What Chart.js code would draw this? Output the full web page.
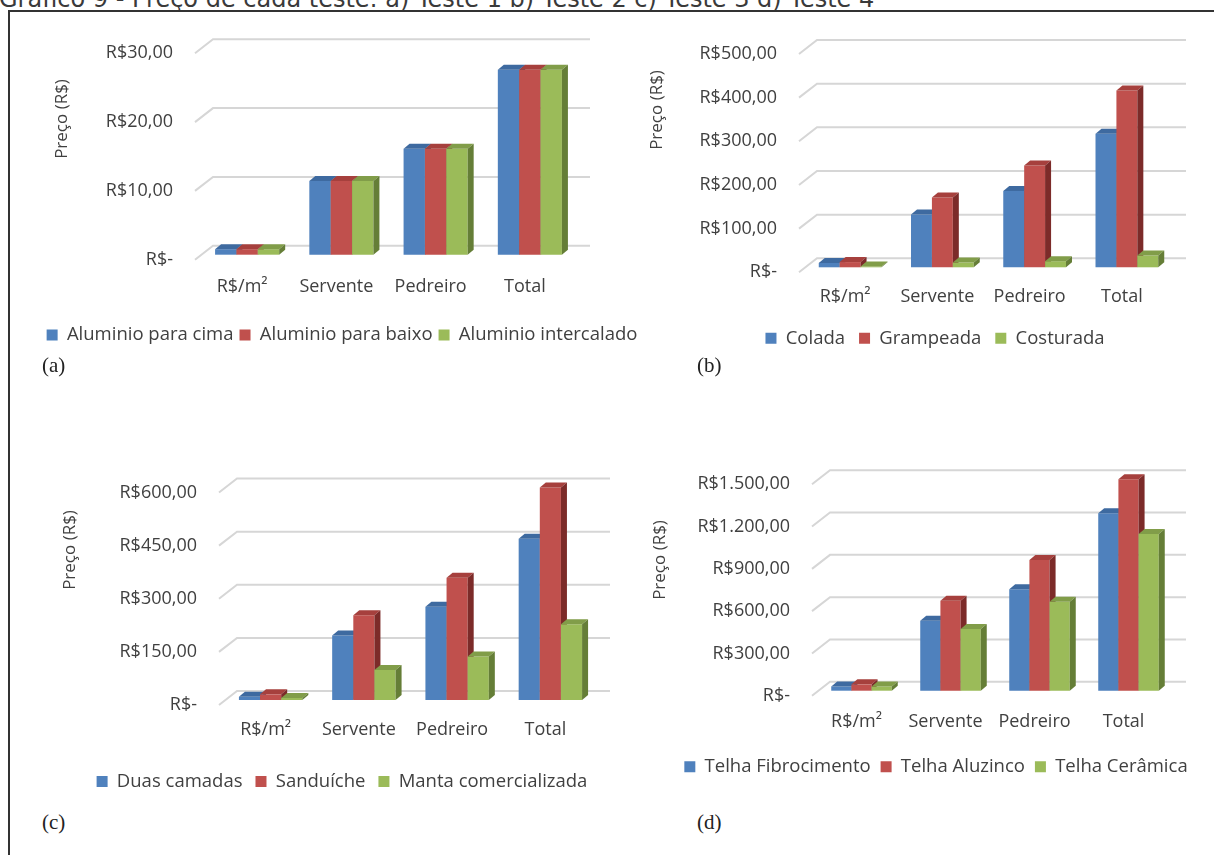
<!DOCTYPE html>
<html>
<head>
<meta charset="utf-8">
<title>Preço de cada teste</title>
<script src="https://cdn.jsdelivr.net/npm/chart.js@4.4.1/dist/chart.umd.min.js"></script>
<style>
  html, body { margin: 0; padding: 0; width: 1214px; height: 855px; overflow: hidden; background: #fff; }
  body { position: relative; }
  #heading { position: absolute; left: -1px; top: -13.5px; font: 24px/24px "DejaVu Sans", sans-serif; color: #3a3a3a; white-space: nowrap; }
  #frame { position: absolute; left: 8px; top: 10px; width: 1220px; height: 860px; border-top: 2px solid #333; border-left: 2px solid #333; }
  canvas.panel { position: absolute; }
  .tag { position: absolute; font: 21px "Liberation Serif", serif; color: #222; line-height: 24px; }
</style>
</head>
<body>
<div id="heading">Gráfico 9 - Preço de cada teste: a) Teste 1 b) Teste 2 c) Teste 3 d) Teste 4</div>
<div id="frame"></div>

<canvas id="chartA" class="panel"></canvas>
<canvas id="chartB" class="panel"></canvas>
<canvas id="chartC" class="panel"></canvas>
<canvas id="chartD" class="panel"></canvas>

<div class="tag" style="left:42px; top:353px">(a)</div>
<div class="tag" style="left:697px; top:353px">(b)</div>
<div class="tag" style="left:42px; top:810px">(c)</div>
<div class="tag" style="left:697px; top:810px">(d)</div>

<script>
// ---- data ----
const categories = ['R$/m²', 'Servente', 'Pedreiro', 'Total'];

// (a) Teste 1
const seriesA = ['Aluminio para cima', 'Aluminio para baixo', 'Aluminio intercalado'];
const aluminioCima = [0.8, 10.7, 15.4, 26.9];
const aluminioBaixo = [0.8, 10.7, 15.4, 26.9];
const aluminioIntercalado = [0.8, 10.7, 15.4, 26.9];
const ticksA = [0, 10, 20, 30];

// (b) Teste 2
const seriesB = ['Colada', 'Grampeada', 'Costurada'];
const colada = [10, 121, 175, 306];
const grampeada = [12, 160, 233, 405];
const costurada = [2, 11, 14, 27];
const ticksB = [0, 100, 200, 300, 400, 500];

// (c) Teste 3
const seriesC = ['Duas camadas', 'Sanduíche', 'Manta comercializada'];
const duasCamadas = [9, 182, 263, 455];
const sanduiche = [16, 239, 345, 600];
const mantaComercializada = [6, 85, 123, 214];
const ticksC = [0, 150, 300, 450, 600];

// (d) Teste 4
const seriesD = ['Telha Fibrocimento', 'Telha Aluzinco', 'Telha Cerâmica'];
const telhaFibrocimento = [30, 497, 719, 1259];
const telhaAluzinco = [45, 639, 927, 1500];
const telhaCeramica = [30, 438, 632, 1112];
const ticksD = [0, 300, 600, 900, 1200, 1500];

// ---- styling ----
const FRONT = ['#4f81bd', '#c0504d', '#9bbb59'];
const TOP = ['#3e6aa0', '#a6403d', '#819d49'];
const SIDE = ['#335783', '#7c2b29', '#657e37'];
const TEXT = '#404040';
const FONT = '"Open Sans", "Noto Sans", sans-serif';
const LEGEND_FONT = 18.5;

// Brazilian currency labels; zero is shown as "R$-"
function brl(v) {
  if (v === 0) return 'R$-';
  const [int, dec] = Number(v).toFixed(2).split('.');
  return 'R$' + int.replace(/\B(?=(\d{3})+(?!\d))/g, '.') + ',' + dec;
}

// Oblique 3D look: back-wall gridlines, bars on a shifted plane with top and side faces
const depth3d = {
  id: 'depth3d',
  beforeDatasetsDraw(chart, args, o) {
    const { ctx, chartArea: a, scales: { y } } = chart;
    ctx.save();
    ctx.strokeStyle = o.gridColor;
    ctx.lineWidth = o.gridWidth;
    y.ticks.forEach(t => {
      const py = y.getPixelForValue(t.value);
      ctx.beginPath();
      ctx.moveTo(a.left, py);
      ctx.lineTo(a.left + o.wallDx, py - o.wallDy);
      ctx.lineTo(a.right + o.wallDx, py - o.wallDy);
      ctx.stroke();
    });
    ctx.restore();
  },
  // bars are painted below, series by series from left to right
  beforeDatasetDraw() { return false; },
  afterDatasetsDraw(chart, args, o) {
    const ctx = chart.ctx;
    const metas = chart.getSortedVisibleDatasetMetas().slice().sort((m1, m2) => m1.index - m2.index);
    metas.forEach(meta => {
      const i = meta.index;
      ctx.save();
      ctx.translate(o.planeDx, -o.planeDy);
      meta.data.forEach(bar => {
        bar.draw(ctx, chart.chartArea);
        const { x, y, base, width } = bar.getProps(['x', 'y', 'base', 'width'], true);
        const l = x - width / 2, r = x + width / 2;
        const top = Math.min(y, base), bottom = Math.max(y, base);
        const dx = o.barDx, dy = o.barDy;
        ctx.fillStyle = TOP[i];
        ctx.beginPath();
        ctx.moveTo(l, top); ctx.lineTo(l + dx, top - dy); ctx.lineTo(r + dx, top - dy); ctx.lineTo(r, top);
        ctx.closePath(); ctx.fill();
        ctx.fillStyle = SIDE[i];
        ctx.beginPath();
        ctx.moveTo(r, top); ctx.lineTo(r + dx, top - dy); ctx.lineTo(r + dx, bottom - dy); ctx.lineTo(r, bottom);
        ctx.closePath(); ctx.fill();
      });
      ctx.restore();
    });
  },
  afterDraw(chart, args, o) {
    const ctx = chart.ctx;
    ctx.save();
    ctx.translate(o.titleX, o.titleY);
    ctx.rotate(-Math.PI / 2);
    ctx.font = '17px ' + FONT;
    ctx.fillStyle = TEXT;
    ctx.textAlign = 'center';
    ctx.textBaseline = 'middle';
    ctx.fillText('Preço (R$)', 0, 0);
    ctx.restore();
  }
};

function build(id, p) {
  const cv = document.getElementById(id);
  cv.width = p.W; cv.height = p.H;
  cv.style.left = p.L + 'px'; cv.style.top = p.T + 'px';

  const legendTop = p.legendY - p.legendGap - LEGEND_FONT / 2;
  const legendH = LEGEND_FONT + p.legendGap + 10;
  const yW = p.left - p.L;
  const rightW = p.L + p.W - p.right;
  const box = { xH: legendTop - p.zero };

  const chart = new Chart(cv, {
    type: 'bar',
    data: {
      labels: categories,
      datasets: p.names.map((name, i) => ({
        label: name,
        data: p.values[i],
        backgroundColor: FRONT[i],
        borderWidth: 0,
        clip: false,
        categoryPercentage: 0.68,
        barPercentage: 1.0
      }))
    },
    options: {
      responsive: false,
      animation: false,
      devicePixelRatio: 1,
      layout: {
        padding: { left: 0, right: 0, top: p.top - p.T, bottom: p.T + p.H - legendTop - legendH }
      },
      scales: {
        x: {
          grid: { display: false, drawTicks: false },
          border: { display: false },
          ticks: { color: TEXT, font: { family: FONT, size: 18 }, padding: p.labelY - p.zero - 10.8, maxRotation: 0, autoSkip: false },
          afterFit: s => { s.height = box.xH; }
        },
        y: {
          min: 0,
          max: p.ticks[p.ticks.length - 1],
          grid: { display: false, drawTicks: false },
          border: { display: false },
          ticks: { color: TEXT, font: { family: FONT, size: 18 }, padding: 22, callback: v => brl(v) },
          afterBuildTicks: s => { s.ticks = p.ticks.map(v => ({ value: v })); },
          afterFit: s => { s.width = yW; }
        },
        // empty strip that keeps the wall clear of the right edge
        edge: {
          type: 'linear',
          position: 'right',
          grid: { display: false, drawTicks: false },
          border: { display: false },
          ticks: { display: false },
          afterFit: s => { s.width = rightW; }
        }
      },
      plugins: {
        tooltip: { enabled: false },
        legend: {
          position: 'bottom',
          labels: {
            boxWidth: 11, boxHeight: 11, padding: p.legendGap, color: TEXT,
            font: { family: FONT, size: LEGEND_FONT }
          }
        },
        depth3d: {
          gridColor: '#d6d6d6', gridWidth: 2,
          wallDx: 18, wallDy: 14,
          planeDx: 5, planeDy: 5,
          barDx: 6, barDy: 5,
          titleX: p.titleX - p.L, titleY: p.titleY - p.T
        }
      }
    },
    plugins: [depth3d]
  });

  // settle the plot area on the intended value range
  for (let k = 0; k < 3; k++) {
    const a = chart.chartArea;
    const dTop = (p.top - p.T) - a.top;
    const dBottom = a.bottom - (p.zero - p.T);
    if (Math.abs(dTop) < 0.2 && Math.abs(dBottom) < 0.2) break;
    chart.options.layout.padding.top += dTop;
    box.xH += dBottom;
    chart.update();
  }
}

build('chartA', {
  L: 22, T: 12, W: 640, H: 353,
  left: 195, right: 572, top: 53.3, zero: 259.7,
  labelY: 286.5, legendY: 335, legendGap: 6, titleX: 62, titleY: 119,
  names: seriesA, values: [aluminioCima, aluminioBaixo, aluminioIntercalado], ticks: ticksA
});
build('chartB', {
  L: 640, T: 12, W: 590, H: 353,
  left: 799, right: 1168, top: 54, zero: 272.3,
  labelY: 297, legendY: 338.3, legendGap: 14, titleX: 657, titleY: 110,
  names: seriesB, values: [colada, grampeada, costurada], ticks: ticksB
});
build('chartC', {
  L: 22, T: 440, W: 640, H: 365,
  left: 219, right: 592, top: 492.5, zero: 705,
  labelY: 730, legendY: 781.5, legendGap: 13, titleX: 70, titleY: 550,
  names: seriesC, values: [duasCamadas, sanduiche, mantaComercializada], ticks: ticksC
});
build('chartD', {
  L: 640, T: 440, W: 592, H: 365,
  left: 812, right: 1168, top: 484.3, zero: 695.7,
  labelY: 721.5, legendY: 766.7, legendGap: 10, titleX: 660, titleY: 560,
  names: seriesD, values: [telhaFibrocimento, telhaAluzinco, telhaCeramica], ticks: ticksD
});
</script>
</body>
</html>
